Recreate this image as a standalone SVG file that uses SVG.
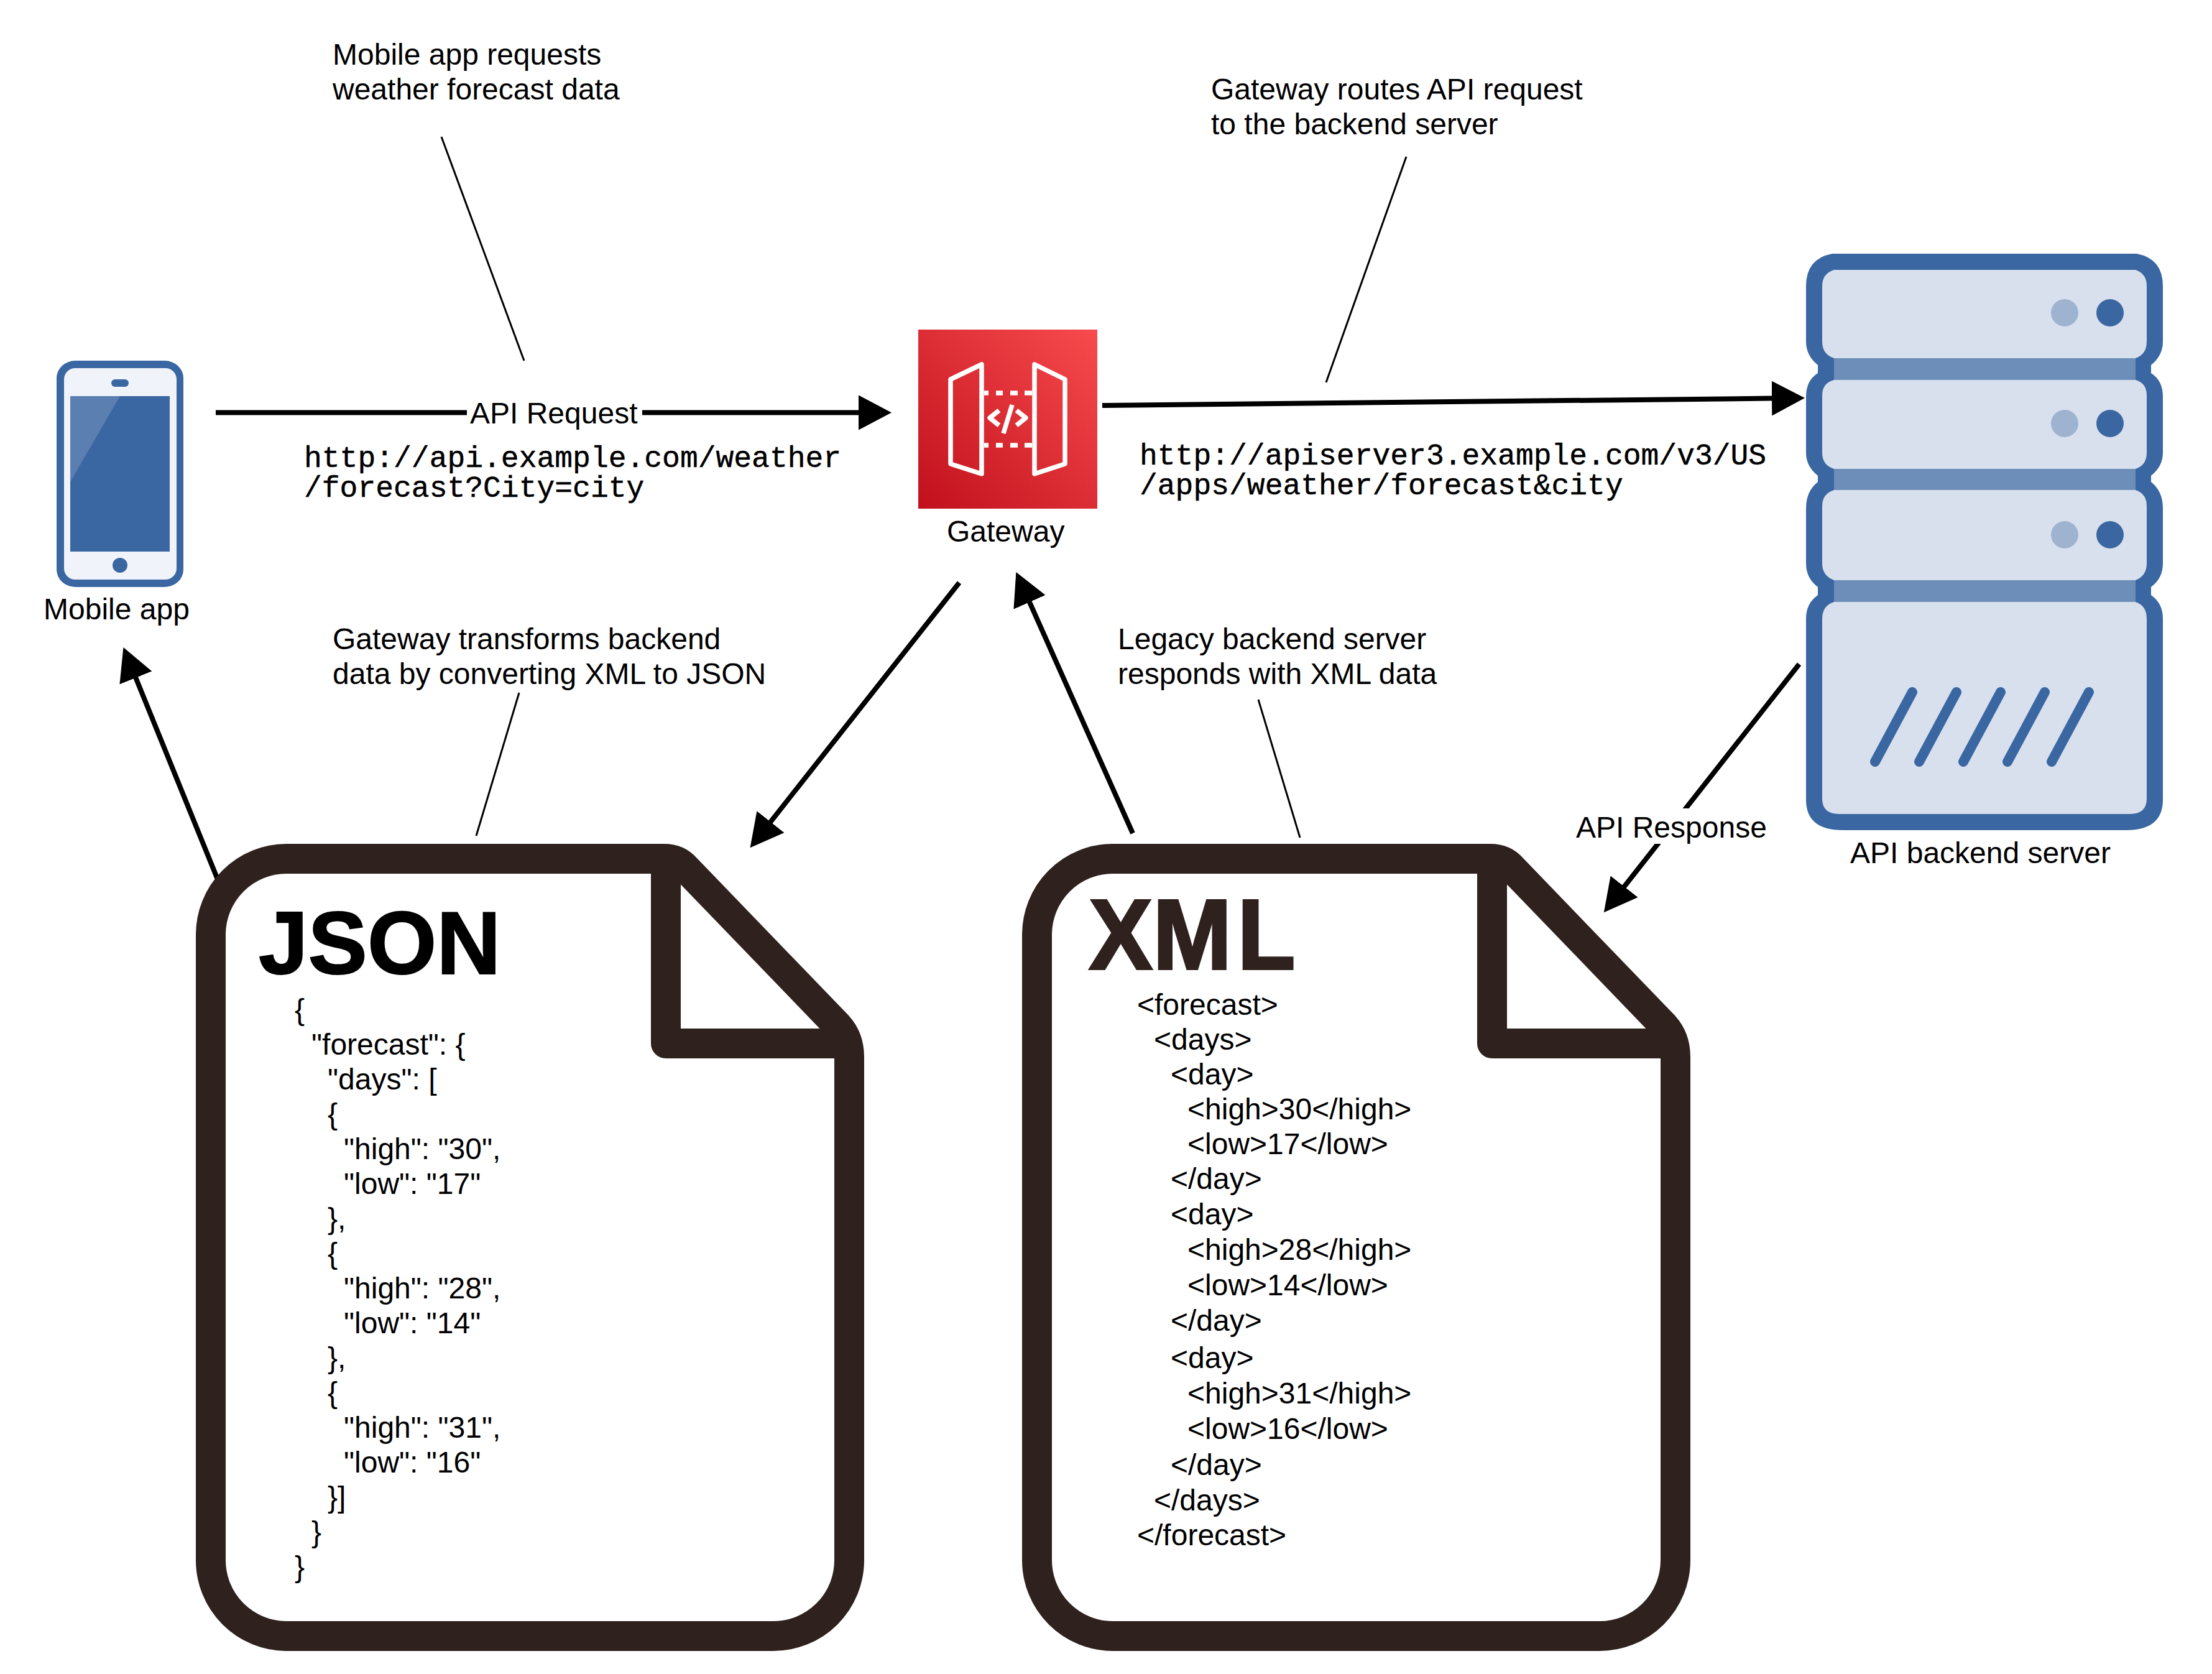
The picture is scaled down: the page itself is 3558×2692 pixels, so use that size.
<svg xmlns="http://www.w3.org/2000/svg" width="3558" height="2692" viewBox="0 0 3558 2692">
<style>
text{font-family:"Liberation Sans",Arial,sans-serif;font-size:48px;fill:#000}
.m{font-family:"Liberation Mono","Courier New",monospace;font-size:48px;stroke:#000;stroke-width:.5}
.c{stroke:#000;stroke-width:8;fill:none}
.t{stroke:#000;stroke-width:3;fill:none}
.d{fill:#fff;stroke:#2e211e;stroke-width:48;stroke-linejoin:round}
.f{fill:none;stroke:#2e211e;stroke-width:48;stroke-linejoin:round}
.p{fill:#d8e0ed}
.b{fill:#6d8eb9}
.l1{fill:#9db3d0}
.l2{fill:#3a67a1}
.s{stroke:#3a67a1;stroke-width:16;stroke-linecap:round}
.w{fill:none;stroke:#fff;stroke-width:7.5;stroke-linejoin:round}
</style>
<defs>
<linearGradient id="g" x1="0" y1="1" x2="1" y2="0"><stop offset="0" stop-color="#C1101C"/><stop offset="1" stop-color="#F74B4D"/></linearGradient>
<marker id="h" markerUnits="userSpaceOnUse" markerWidth="56" markerHeight="58" refX="1" refY="28" orient="auto"><path d="M0 0L53 28L0 56Z" fill="#000"/></marker>
</defs>
<rect width="3558" height="2692" fill="#fff"/>
<g id="connectors">
<path class="c" d="M347 663.500H1382" marker-end="url(#h)"/>
<path class="c" d="M1773 652L2851 640.600" marker-end="url(#h)"/>
<path class="c" d="M1543 937L1238.800 1322.400" marker-end="url(#h)"/>
<path class="c" d="M1822 1340L1655.600 967.400" marker-end="url(#h)"/>
<path class="c" d="M350 1414L218 1089.100" marker-end="url(#h)"/>
<path class="c" d="M2894 1068L2612 1426.500" marker-end="url(#h)"/>
<path class="t" d="M710 220L843 580"/>
<path class="t" d="M2262 252L2133 615"/>
<path class="t" d="M835 1114L766 1344"/>
<path class="t" d="M2024 1125L2091 1347"/>
<rect x="751" y="630" width="282" height="70" fill="#fff"/>
<rect x="2530" y="1300" width="318" height="57" fill="#fff"/>
<text x="756" y="681">API Request</text>
<text x="2535" y="1347">API Response</text>
</g>
<g id="notes">
<text x="535" y="104">Mobile app requests</text>
<text x="535" y="160">weather forecast data</text>
<text x="1948" y="160">Gateway routes API request</text>
<text x="1948" y="216">to the backend server</text>
<text x="535" y="1044">Gateway transforms backend</text>
<text x="535" y="1100">data by converting XML to JSON</text>
<text x="1798" y="1044">Legacy backend server</text>
<text x="1798" y="1100">responds with XML data</text>
<text class="m" x="489" y="751">http://api.example.com/weather</text>
<text class="m" x="489" y="799">/forecast?City=city</text>
<text class="m" x="1833" y="747">http://apiserver3.example.com/v3/US</text>
<text class="m" x="1833" y="795">/apps/weather/forecast&amp;city</text>
</g>
<g id="mobile">
<rect x="91" y="580" width="204" height="364" rx="30" ry="28" fill="#3a67a1"/>
<rect x="103" y="592" width="181" height="340" rx="18" ry="18" fill="#f0f3f9"/>
<rect x="113" y="637" width="160" height="250" fill="#3a67a1"/>
<path d="M113 637H193L113 775Z" fill="#5b7fb0"/>
<rect x="179" y="610" width="28" height="12" rx="6" fill="#3a67a1"/>
<ellipse cx="193" cy="909" rx="12" ry="12" fill="#3a67a1"/>
<text x="70" y="996">Mobile app</text>
</g>
<g id="gateway">
<rect x="1477" y="530" width="288" height="288" fill="url(#g)"/>
<path class="w" d="M1529 610L1579 586V762L1529 746Z"/>
<path class="w" d="M1664 586L1713 610V746L1664 762Z"/>
<path class="w" d="M1583 632H1590M1602 632H1613M1625 632H1637M1648 632H1660M1583 716H1590M1602 716H1613M1625 716H1637M1648 716H1660"/>
<path class="w" d="M1607 660L1592 672L1607 684M1635 660L1650 672L1635 684M1628 651L1614 697"/>
<text x="1523" y="871">Gateway</text>
</g>
<g id="server">
<path fill="#3a67a1" d="M2947 408H3437Q3479 416 3479 460V549Q3479 572 3460 587V600Q3479 612 3479 638V728Q3479 750 3460 765V775Q3479 790 3479 817V906Q3479 930 3460 944V957Q3479 970 3479 995V1286Q3479 1335 3420 1335H2964Q2905 1335 2905 1286V995Q2905 970 2924 957V944Q2905 930 2905 906V817Q2905 790 2924 775V765Q2905 750 2905 728V638Q2905 612 2924 600V587Q2905 572 2905 549V460Q2905 416 2947 408Z"/>
<path class="p" d="M2950 434H3435Q3453 440 3453 460V549Q3453 570 3435 576H2950Q2931 570 2931 549V460Q2931 440 2950 434Z"/>
<path class="p" d="M2950 611H3435Q3453 616 3453 636V728Q3453 748 3435 754H2950Q2931 748 2931 728V636Q2931 616 2950 611Z"/>
<path class="p" d="M2950 788H3435Q3453 794 3453 814V906Q3453 926 3435 933H2950Q2931 926 2931 906V814Q2931 794 2950 788Z"/>
<path class="p" d="M2950 968H3435Q3453 974 3453 995V1284Q3453 1309 3426 1309H2958Q2931 1309 2931 1284V995Q2931 974 2950 968Z"/>
<rect class="b" x="2950" y="576" width="485" height="35"/>
<rect class="b" x="2950" y="754" width="485" height="34"/>
<rect class="b" x="2950" y="933" width="485" height="35"/>
<circle class="l1" cx="3321" cy="503" r="22"/><circle class="l2" cx="3394" cy="503" r="22"/>
<circle class="l1" cx="3321" cy="681" r="22"/><circle class="l2" cx="3394" cy="681" r="22"/>
<circle class="l1" cx="3321" cy="860" r="22"/><circle class="l2" cx="3394" cy="860" r="22"/>
<path class="s" d="M3016 1225L3076 1113M3087 1225L3147 1113M3158 1225L3218 1113M3229 1225L3289 1113M3300 1225L3360 1113"/>
<text x="2976" y="1388">API backend server</text>
</g>
<g id="json">
<path class="d" d="M460 1381H1068Q1090 1381 1103 1396L1348 1650Q1366 1670 1366 1700V2510A122 122 0 0 1 1244 2631H460A122 122 0 0 1 339 2510V1502A122 122 0 0 1 460 1381Z"/>
<path class="f" d="M1071 1381V1678H1366"/>
<text x="416" y="1566" style="font-size:143px;font-weight:700;stroke:#000;stroke-width:2">JSON</text>
<text x="474" y="1640">{</text>
<text x="501" y="1696">"forecast": {</text>
<text x="527" y="1752">"days": [</text>
<text x="527" y="1808">{</text>
<text x="553" y="1864">"high": "30",</text>
<text x="553" y="1920">"low": "17"</text>
<text x="527" y="1976">},</text>
<text x="527" y="2032">{</text>
<text x="553" y="2088">"high": "28",</text>
<text x="553" y="2144">"low": "14"</text>
<text x="527" y="2200">},</text>
<text x="527" y="2256">{</text>
<text x="553" y="2312">"high": "31",</text>
<text x="553" y="2368">"low": "16"</text>
<text x="527" y="2424">}]</text>
<text x="501" y="2480">}</text>
<text x="474" y="2536">}</text>
</g>
<g id="xml">
<path class="d" d="M1789 1381H2397Q2419 1381 2432 1396L2677 1650Q2695 1670 2695 1700V2510A122 122 0 0 1 2573 2631H1789A122 122 0 0 1 1668 2510V1502A122 122 0 0 1 1789 1381Z"/>
<path class="f" d="M2400 1381V1678H2695"/>
<text transform="translate(1752,1558) scale(.95,1)" x="0 108 251" style="font-size:160px;font-weight:700;fill:#2e211e;stroke:#2e211e;stroke-width:4">XML</text>
<text x="1829" y="1632">&lt;forecast&gt;</text>
<text x="1856" y="1688">&lt;days&gt;</text>
<text x="1883" y="1744">&lt;day&gt;</text>
<text x="1910" y="1800">&lt;high&gt;30&lt;/high&gt;</text>
<text x="1910" y="1856">&lt;low&gt;17&lt;/low&gt;</text>
<text x="1883" y="1912">&lt;/day&gt;</text>
<text x="1883" y="1969">&lt;day&gt;</text>
<text x="1910" y="2026">&lt;high&gt;28&lt;/high&gt;</text>
<text x="1910" y="2083">&lt;low&gt;14&lt;/low&gt;</text>
<text x="1883" y="2140">&lt;/day&gt;</text>
<text x="1883" y="2200">&lt;day&gt;</text>
<text x="1910" y="2257">&lt;high&gt;31&lt;/high&gt;</text>
<text x="1910" y="2314">&lt;low&gt;16&lt;/low&gt;</text>
<text x="1883" y="2372">&lt;/day&gt;</text>
<text x="1856" y="2429">&lt;/days&gt;</text>
<text x="1829" y="2485">&lt;/forecast&gt;</text>
</g>
</svg>
